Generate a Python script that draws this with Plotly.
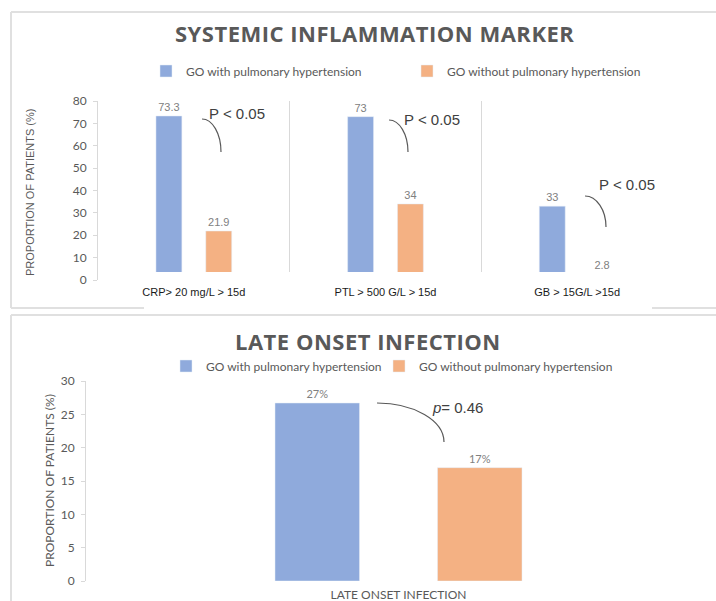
import plotly.graph_objects as go

# ---------------- data ----------------
top_categories = ["CRP> 20 mg/L > 15d", "PTL > 500 G/L > 15d", "GB > 15G/L >15d"]
top_with_ph = [73.3, 73, 33]
top_without_ph = [21.9, 34, 2.8]
top_pvalues = ["P < 0.05", "P < 0.05", "P < 0.05"]

bottom_categories = ["LATE ONSET INFECTION"]
bottom_with_ph = [26.7]
bottom_without_ph = [17]
bottom_pvalue = "<i>p</i>= 0.46"

series_names = ["GO with pulmonary hypertension", "GO without pulmonary hypertension"]
top_title = "SYSTEMIC INFLAMMATION MARKER"
bottom_title = "LATE ONSET INFECTION"
y_title = "PROPORTION OF PATIENTS (%)"

# ---------------- style ----------------
W, H = 716, 601
BLUE = "#8faadc"
ORANGE = "#f4b183"
GRID = "#d9d9d9"
TXT = "#595959"
CAL = "Lato, Open Sans, sans-serif"
ARIAL = "Liberation Sans, Arial, sans-serif"


def X(px):
    return px / W


def Y(py):
    return 1 - py / H


fig = go.Figure()

fig.add_trace(go.Bar(
    x=top_categories, y=top_with_ph, name=series_names[0], marker_color=BLUE,
    text=[str(v) for v in top_with_ph], textposition="outside", cliponaxis=False,
    textfont=dict(family=ARIAL, size=11, color="#808080"),
    xaxis="x", yaxis="y", legend="legend"))
fig.add_trace(go.Bar(
    x=top_categories, y=top_without_ph, name=series_names[1], marker_color=ORANGE,
    text=[str(v) for v in top_without_ph], textposition="outside", cliponaxis=False,
    textfont=dict(family=ARIAL, size=11, color="#808080"),
    xaxis="x", yaxis="y", legend="legend2"))
fig.add_trace(go.Bar(
    x=bottom_categories, y=bottom_with_ph, name=series_names[0], marker_color=BLUE,
    text=[f"{round(v)}%" for v in bottom_with_ph], textposition="outside", cliponaxis=False,
    textfont=dict(family=CAL, size=11, color="#808080"),
    xaxis="x2", yaxis="y2", legend="legend3"))
fig.add_trace(go.Bar(
    x=bottom_categories, y=bottom_without_ph, name=series_names[1], marker_color=ORANGE,
    text=[f"{round(v)}%" for v in bottom_without_ph], textposition="outside", cliponaxis=False,
    textfont=dict(family=CAL, size=11, color="#808080"),
    xaxis="x2", yaxis="y2", legend="legend4"))

xcommon = dict(type="category", showgrid=True, gridcolor=GRID, gridwidth=1.3,
               tickson="boundaries", ticks="", showline=False, zeroline=False, automargin=False)
ycommon = dict(showgrid=False, showline=True, linecolor=GRID, linewidth=1,
               ticks="outside", ticklen=4, tickcolor=GRID, zeroline=False, automargin=False,
               tickfont=dict(family=CAL, size=12, color=TXT), ticklabelstandoff=4)

legcommon = dict(orientation="h", xanchor="left", yanchor="middle",
                 bgcolor="rgba(0,0,0,0)", borderwidth=0, itemwidth=30,
                 font=dict(family=CAL, size=12, color=TXT), itemclick=False)

shapes = []
# chart frames
fl = dict(type="line", xref="paper", yref="paper", line=dict(color="#e0e0e0", width=2))
for (x0, y0, x1, y1) in [(11, 12, 716, 12), (11, 12, 11, 308), (11, 308, 144, 308),
                         (652, 308, 716, 308), (11, 315, 716, 315), (11, 315, 11, 601)]:
    shapes.append(dict(fl, x0=X(x0), y0=Y(y0), x1=X(x1), y1=Y(y1)))

# cover for bar bottoms (as in the reference picture)
shapes.append(dict(type="rect", xref="paper", yref="y", x0=X(99), x1=X(671), y0=0, y1=3.6,
                   fillcolor="white", line=dict(width=0), layer="above"))


def arc(x0, y0, x1, y1):
    k = 0.552
    dx, dy = x1 - x0, y1 - y0
    pts = [(x0, y0), (x0 + k * dx, y0), (x1, y1 - k * dy), (x1, y1)]
    p = [(X(a), Y(b)) for a, b in pts]
    return (f"M {p[0][0]:.5f},{p[0][1]:.5f} C {p[1][0]:.5f},{p[1][1]:.5f} "
            f"{p[2][0]:.5f},{p[2][1]:.5f} {p[3][0]:.5f},{p[3][1]:.5f}")


for (x0, y0, x1, y1) in [(202, 119, 221, 152), (389, 120, 408, 152), (585, 196, 606, 227),
                         (377, 403, 444, 442)]:
    shapes.append(dict(type="path", xref="paper", yref="paper", path=arc(x0, y0, x1, y1),
                       line=dict(color="#595959", width=1.2)))

SP = '<span style="letter-spacing:0.5px">'
annotations = [
    dict(text=f"{SP}<b>{top_title}</b></span>", x=X(374), y=Y(33),
         font=dict(family="Open Sans", size=22, color=TXT)),
    dict(text=f"{SP}<b>{bottom_title}</b></span>", x=X(368), y=Y(341),
         font=dict(family="Open Sans", size=22, color=TXT)),
    dict(text=y_title, x=X(30), y=Y(193), textangle=-90, font=dict(family=ARIAL, size=11, color=TXT)),
    dict(text=y_title, x=X(49), y=Y(481), textangle=-90, font=dict(family=CAL, size=12, color=TXT)),
]
for (px, py), t in zip([(237, 113), (432, 119), (627, 185)], top_pvalues):
    annotations.append(dict(text=t, x=X(px), y=Y(py), font=dict(family=ARIAL, size=15, color="#404040")))
annotations.append(dict(text=bottom_pvalue, x=X(457), y=Y(408), font=dict(family=ARIAL, size=15, color="#404040")))
for a in annotations:
    a.update(xref="paper", yref="paper", showarrow=False, xanchor="center", yanchor="middle")

fig.update_layout(
    width=W, height=H, margin=dict(l=0, r=0, t=0, b=0, autoexpand=False),
    paper_bgcolor="white", plot_bgcolor="white",
    barmode="group", bargap=0.48, bargroupgap=0.48,
    xaxis=dict(xcommon, domain=[X(98), X(673)], anchor="y",
               tickfont=dict(family=ARIAL, size=11, color="#1a1a1a"), ticklabelstandoff=4),
    yaxis=dict(ycommon, domain=[Y(280), Y(101)], range=[0, 80], dtick=10, anchor="x"),
    xaxis2=dict(xcommon, domain=[X(86), X(711)], anchor="y2",
                tickfont=dict(family=CAL, size=12, color=TXT), ticklabelstandoff=5),
    yaxis2=dict(ycommon, domain=[Y(581), Y(381)], range=[0, 30], dtick=5, anchor="x2"),
    legend=dict(legcommon, x=X(146), y=Y(71)),
    legend2=dict(legcommon, x=X(407), y=Y(71)),
    legend3=dict(legcommon, x=X(166), y=Y(366)),
    legend4=dict(legcommon, x=X(379), y=Y(366)),
    shapes=shapes, annotations=annotations, showlegend=True,
)

fig.write_html("out.html", config={"displayModeBar": False},
               post_script="document.body.style.margin='0px';")
